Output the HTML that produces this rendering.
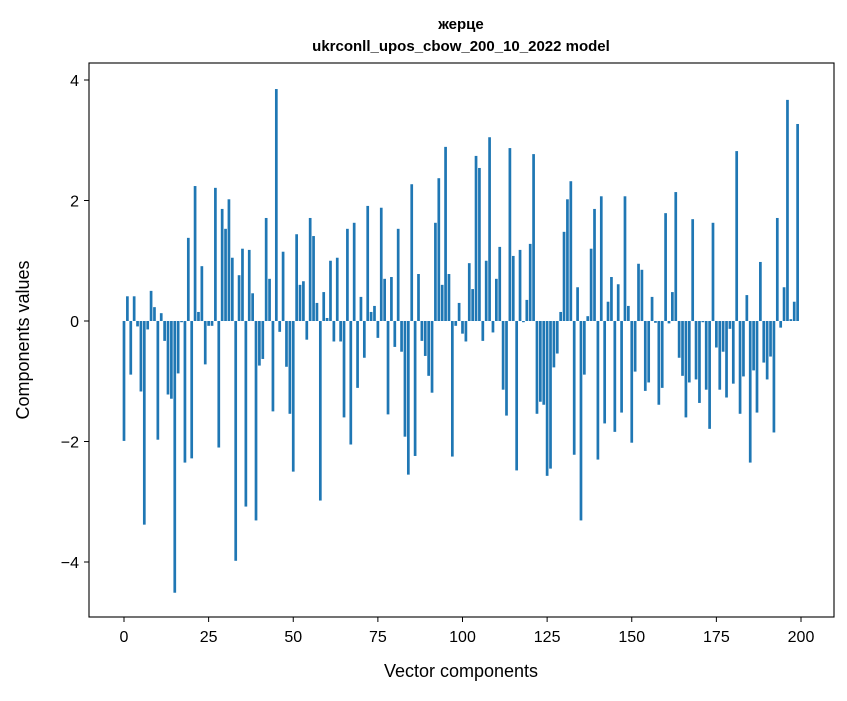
<!DOCTYPE html>
<html><head><meta charset="utf-8"><style>
body{margin:0;background:#fff;}
svg text{font-family:"Liberation Sans","DejaVu Sans",sans-serif;}
</style></head><body>
<svg id="chart" width="847" height="696" xmlns="http://www.w3.org/2000/svg">
<rect width="847" height="696" fill="#fff"/>
<text x="461" y="29" text-anchor="middle" font-size="15" font-weight="bold">жерце</text>
<text x="461" y="51" text-anchor="middle" font-size="15" font-weight="bold">ukrconll_upos_cbow_200_10_2022 model</text>
<g id="bars"></g>
<rect x="89" y="63" width="745" height="554" fill="none" stroke="#000" stroke-width="1.1"/>
<g id="xticks"></g>
<g id="yticks"></g>
<text x="461" y="677" text-anchor="middle" font-size="18">Vector components</text>
<text transform="translate(29,340) rotate(-90)" text-anchor="middle" font-size="18">Components values</text>
</svg>
<script>
const values = [-1.99,0.41,-0.89,0.41,-0.09,-1.17,-3.38,-0.14,0.5,0.23,
-1.97,0.13,-0.33,-1.22,-1.29,-4.51,-0.87,-0.02,-2.35,1.38,
-2.28,2.24,0.15,0.91,-0.72,-0.08,-0.08,2.21,-2.1,1.86,
1.53,2.02,1.05,-3.98,0.76,1.2,-3.08,1.18,0.46,-3.31,
-0.74,-0.63,1.71,0.7,-1.5,3.85,-0.18,1.15,-0.76,-1.54,
-2.5,1.44,0.6,0.66,-0.31,1.71,1.41,0.3,-2.98,0.48,
0.05,1.0,-0.34,1.05,-0.34,-1.6,1.53,-2.05,1.63,-1.11,
0.4,-0.61,1.91,0.15,0.25,-0.28,1.88,0.7,-1.55,0.73,
-0.43,1.53,-0.51,-1.92,-2.55,2.27,-2.24,0.78,-0.33,-0.58,
-0.91,-1.19,1.63,2.37,0.6,2.89,0.78,-2.25,-0.08,0.3,
-0.21,-0.34,0.96,0.53,2.74,2.54,-0.33,1.0,3.05,-0.19,
0.7,1.23,-1.14,-1.57,2.87,1.08,-2.48,1.18,-0.02,0.35,
1.28,2.77,-1.54,-1.34,-1.39,-2.57,-2.45,-0.77,-0.54,0.15,
1.48,2.02,2.32,-2.22,0.56,-3.31,-0.89,0.08,1.2,1.86,
-2.3,2.07,-1.7,0.32,0.73,-1.84,0.61,-1.52,2.07,0.25,
-2.02,-0.84,0.95,0.85,-1.16,-1.02,0.4,-0.03,-1.39,-1.11,
1.79,-0.04,0.48,2.14,-0.61,-0.91,-1.6,-1.02,1.69,-0.97,
-1.36,-0.02,-1.14,-1.79,1.63,-0.44,-1.14,-0.51,-1.27,-0.13,
-1.04,2.82,-1.54,-0.92,0.43,-2.35,-0.82,-1.52,0.98,-0.69,
-0.97,-0.59,-1.85,1.71,-0.11,0.56,3.67,0.03,0.32,3.27];
const xTicks = [0,25,50,75,100,125,150,175,200];
const yTicks = [-4,-2,0,2,4];

const NS="http://www.w3.org/2000/svg";
function xs(v){return 124+v*(677/200);}
function ys(v){return 321-v*60.25;}
const bw=0.8*677/200;
const gb=document.getElementById('bars');
values.forEach((v,i)=>{
  const r=document.createElementNS(NS,'rect');
  
  
  const y0=ys(0), y1=ys(v);
  r.setAttribute('x',xs(i)-bw/2);
  r.setAttribute('y',Math.min(y0,y1));
  r.setAttribute('width',bw);
  r.setAttribute('height',Math.abs(y1-y0));
  r.setAttribute('fill','#1f77b4');
  gb.appendChild(r);
});
const gx=document.getElementById('xticks');
xTicks.forEach(t=>{
  const l=document.createElementNS(NS,'line');
  
  
  l.setAttribute('x1',xs(t));l.setAttribute('x2',xs(t));
  l.setAttribute('y1',617);l.setAttribute('y2',622);
  l.setAttribute('stroke','#000');
  gx.appendChild(l);
  const tx=document.createElementNS(NS,'text');
  
  
  tx.setAttribute('x',xs(t));tx.setAttribute('y',642);
  tx.setAttribute('text-anchor','middle');tx.setAttribute('font-size','16');
  tx.textContent=t;
  gx.appendChild(tx);
});
const gy=document.getElementById('yticks');
yTicks.forEach(t=>{
  const l=document.createElementNS(NS,'line');
  
  
  l.setAttribute('x1',84);l.setAttribute('x2',89);
  l.setAttribute('y1',ys(t));l.setAttribute('y2',ys(t));
  l.setAttribute('stroke','#000');
  gy.appendChild(l);
  const tx=document.createElementNS(NS,'text');
  
  
  tx.setAttribute('x',79);tx.setAttribute('y',ys(t)+6);
  tx.setAttribute('text-anchor','end');tx.setAttribute('font-size','16');
  tx.textContent=t<0?'\u2212'+Math.abs(t):String(t);
  gy.appendChild(tx);
});
</script>
</body></html>
